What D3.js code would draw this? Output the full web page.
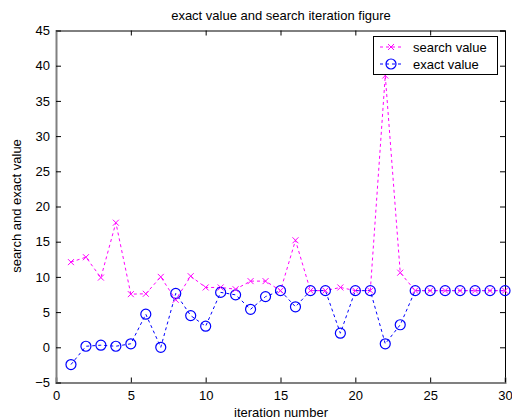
<!DOCTYPE html>
<html>
<head>
<meta charset="utf-8">
<script src="https://cdn.jsdelivr.net/npm/d3@7"></script>
<style>
  html, body { margin: 0; padding: 0; background: #fff; }
  svg text { font-family: "Liberation Sans", Arial, sans-serif; }
</style>
</head>
<body>
<svg id="chart" width="512" height="420"></svg>
<script>
// Iteration numbers and the two series plotted against them
const iterations = d3.range(1, 31);
const searchValues = [12.1, 12.8, 9.9, 17.7, 7.55, 7.6, 10.0, 6.75, 10.1, 8.5,
                      8.5, 8.25, 9.4, 9.4, 8.05, 15.2, 8.05, 8.05, 8.5, 8.05,
                      8.05, 38.6, 10.6, 8.05, 8.05, 8.05, 8.05, 8.05, 8.05, 8.05];
const exactValues  = [-2.45, 0.15, 0.3, 0.15, 0.5, 4.7, 0.0, 7.65, 4.5, 3.0,
                      7.8, 7.45, 5.4, 7.2, 8.05, 5.75, 8.05, 8.05, 2.0, 8.05,
                      8.05, 0.5, 3.2, 8.05, 8.05, 8.05, 8.05, 8.05, 8.05, 8.05];
const xTicks = [0, 5, 10, 15, 20, 25, 30];
const yTicks = [-5, 0, 5, 10, 15, 20, 25, 30, 35, 40, 45];
const legendLabels = ["search value", "exact value"];

const svg = d3.select("#chart");
const plot = { left: 56, right: 505, top: 30.5, bottom: 382.5 };

const x = d3.scaleLinear().domain([0, 30]).range([plot.left, plot.right]);
const y = d3.scaleLinear().domain([-5, 45]).range([plot.bottom, plot.top]);

const magenta = "#ff00ff";
const blue = "#0000ff";
const font = 13;

// Title and axis labels
svg.append("text").attr("x", 281).attr("y", 20).attr("text-anchor", "middle")
  .attr("font-size", font).attr("fill", "#000").text("exact value and search iteration figure");
svg.append("text").attr("x", 281).attr("y", 417).attr("text-anchor", "middle")
  .attr("font-size", font).attr("fill", "#000").text("iteration number");
svg.append("text").attr("transform", "translate(21,206) rotate(-90)").attr("text-anchor", "middle")
  .attr("font-size", font).attr("fill", "#000").text("search and exact value");

// Axes: ticks point inward, mirrored on the top and right edges
const tickLen = 5;
const bottomAxis = d3.axisBottom(x).tickValues(xTicks).tickSize(-tickLen).tickPadding(8).tickFormat(d3.format("d"));
const topAxis = d3.axisTop(x).tickValues(xTicks).tickSize(-tickLen).tickFormat("");
const leftAxis = d3.axisLeft(y).tickValues(yTicks).tickSize(-tickLen).tickPadding(6).tickFormat(d3.format("d"));
const rightAxis = d3.axisRight(y).tickValues(yTicks).tickSize(-tickLen).tickFormat("");

function styleAxis(g, color) {
  g.select(".domain").attr("stroke", color).attr("stroke-width", 1);
  g.selectAll(".tick line").attr("stroke", "#000");
  g.selectAll(".tick text").attr("font-size", font).attr("fill", "#000")
    .attr("font-family", "'Liberation Sans', Arial, sans-serif");
}
svg.append("g").attr("transform", `translate(0,${plot.top})`).call(topAxis).call(g => styleAxis(g, "#000"));
svg.append("g").attr("transform", `translate(${plot.right},0)`).call(rightAxis).call(g => styleAxis(g, "#000"));
svg.append("g").attr("transform", `translate(0,${plot.bottom})`).call(bottomAxis).call(g => {
  styleAxis(g, "#808080");
  g.select(".domain").attr("stroke-width", 2);
});
svg.append("g").attr("transform", `translate(${plot.left},0)`).call(leftAxis).call(g => {
  styleAxis(g, "#808080");
  g.select(".domain").attr("stroke-width", 2);
});

// Series lines and markers
const line = d3.line().x((d, i) => x(iterations[i])).y(d => y(d));

function drawCross(g, cx, cy, s, color) {
  g.append("path")
    .attr("d", `M${cx - s},${cy - s}L${cx + s},${cy + s}M${cx - s},${cy + s}L${cx + s},${cy - s}`)
    .attr("stroke", color).attr("stroke-width", 1).attr("fill", "none");
}

const series = svg.append("g");
series.append("path").datum(exactValues).attr("d", line)
  .attr("fill", "none").attr("stroke", blue).attr("stroke-width", 1).attr("stroke-dasharray", "3,3");
series.append("path").datum(searchValues).attr("d", line)
  .attr("fill", "none").attr("stroke", magenta).attr("stroke-width", 1).attr("stroke-dasharray", "3,3");

exactValues.forEach((v, i) => {
  series.append("circle").attr("cx", x(iterations[i])).attr("cy", y(v)).attr("r", 5)
    .attr("fill", "none").attr("stroke", blue).attr("stroke-width", 1.2);
});
searchValues.forEach((v, i) => {
  drawCross(series, x(iterations[i]), y(v), 3, magenta);
});

// Legend box, drawn over the series
const legend = svg.append("g");
legend.append("rect").attr("x", 373.5).attr("y", 36.5).attr("width", 124).attr("height", 38)
  .attr("fill", "#fff").attr("stroke", "#000").attr("stroke-width", 1);
const legendColors = [magenta, blue];
legendLabels.forEach((label, i) => {
  const ly = 47 + i * 17;
  legend.append("line").attr("x1", 380).attr("x2", 402).attr("y1", ly).attr("y2", ly)
    .attr("stroke", legendColors[i]).attr("stroke-width", 1).attr("stroke-dasharray", "3,3");
  if (i === 0) drawCross(legend, 391, ly, 3, magenta);
  else legend.append("circle").attr("cx", 391).attr("cy", ly).attr("r", 5)
    .attr("fill", "none").attr("stroke", blue).attr("stroke-width", 1.2);
  legend.append("text").attr("x", 413).attr("y", ly + 4.5).attr("font-size", font)
    .attr("fill", "#000").text(label);
});
</script>
</body>
</html>
